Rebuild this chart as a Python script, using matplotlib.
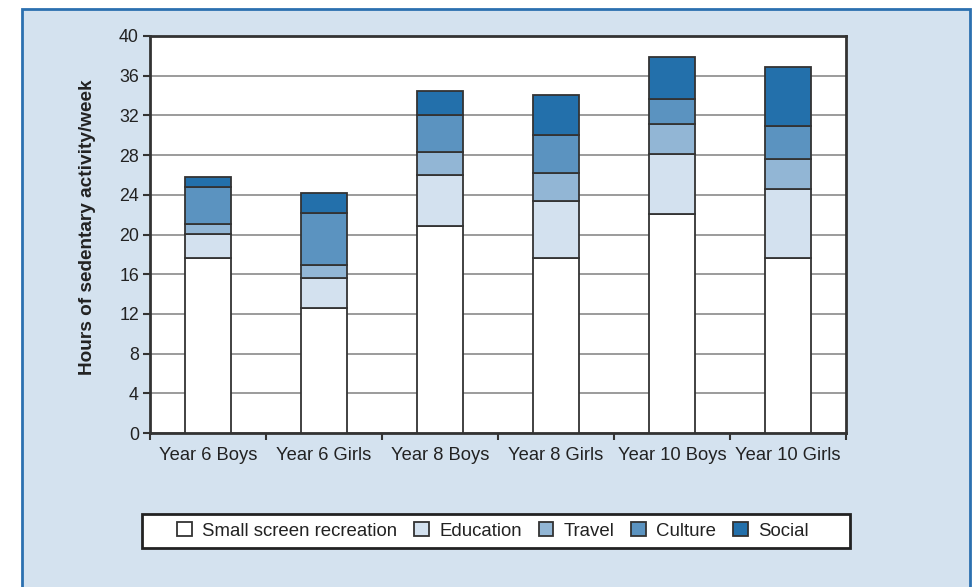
import numpy as np
import matplotlib.pyplot as plt
from matplotlib.patches import Rectangle

plt.rcParams['font.family'] = 'Liberation Sans'

# Daten (Stunden pro Woche)
groups = ["Year 6 Boys", "Year 6 Girls", "Year 8 Boys", "Year 8 Girls", "Year 10 Boys", "Year 10 Girls"]
small_screen = [17.6, 12.6, 20.9, 17.6, 22.1, 17.6]
education = [2.5, 3.0, 5.1, 5.8, 6.0, 7.0]
travel = [1.0, 1.3, 2.3, 2.8, 3.0, 3.0]
culture = [3.7, 5.3, 3.7, 3.8, 2.6, 3.3]
social = [1.0, 2.0, 2.5, 4.1, 4.2, 6.0]

series = [small_screen, education, travel, culture, social]
labels = ["Small screen recreation", "Education", "Travel", "Culture", "Social"]
colors = ["#ffffff", "#d3e1ef", "#92b6d5", "#5b93c0", "#2370ab"]

fig = plt.figure(figsize=(9.75, 5.87), dpi=100)
fig.patch.set_facecolor("white")

# hellblauer Rahmen
fig.patches.append(Rectangle((22 / 975, -0.05), (970 - 22) / 975, 1.05 - 9 / 587,
                             transform=fig.transFigure, facecolor="#d4e2ef",
                             edgecolor="#2b70b0", linewidth=2, zorder=-5))

ax = fig.add_axes([150 / 975, 1 - 433 / 587, (846 - 150) / 975, (433 - 36) / 587])
ax.set_zorder(2)
ax.set_facecolor("white")

x = np.arange(len(groups))
bottom = np.zeros(len(groups))
for vals, lab, col in zip(series, labels, colors):
    ax.bar(x, vals, width=0.39, bottom=bottom, color=col, edgecolor="#333333",
           linewidth=1.3, label=lab, zorder=3)
    bottom += np.array(vals)

ax.set_xlim(-0.5, 5.5)
ax.set_ylim(0, 40)
ax.set_yticks(np.arange(0, 41, 4))
ax.yaxis.grid(True, color="#8a8a8a", linewidth=1.2, zorder=0)
ax.set_axisbelow(True)

ax.set_xticks(x)
ax.set_xticklabels(groups, fontsize=13.2, color="#222222")
ax.tick_params(axis="x", which="major", length=0, pad=10)
ax.set_xticks(np.arange(-0.5, 6, 1), minor=True)
ax.tick_params(axis="x", which="minor", length=5, width=1.5, color="#333333", direction="out")
ax.tick_params(axis="y", length=5, width=1.5, color="#333333", labelsize=12.8,
               labelcolor="#222222", pad=3)

for s in ax.spines.values():
    s.set_color("#333333")
    s.set_linewidth(2)

ax.set_ylabel("Hours of sedentary activity/week", fontsize=13.7, fontweight="bold",
              color="#222222")
ax.yaxis.set_label_coords(-0.077, 0.519)

# Legendenrahmen separat
fig.patches.append(Rectangle((142 / 975, 1 - 548 / 587), (850 - 142) / 975, 34 / 587,
                             transform=fig.transFigure, facecolor="white",
                             edgecolor="#222222", linewidth=2, zorder=1))
handles, labs = ax.get_legend_handles_labels()
leg = fig.legend(handles, labs, loc="center", bbox_to_anchor=(493 / 975, 1 - 531 / 587),
                 ncol=5, fontsize=13.4, frameon=False,
                 handlelength=0.8, handleheight=0.8, handletextpad=0.55,
                 columnspacing=0.9, borderpad=0)
leg.set_zorder(3)
for t in leg.get_texts():
    t.set_color("#222222")

plt.savefig("out.png", dpi=100)
